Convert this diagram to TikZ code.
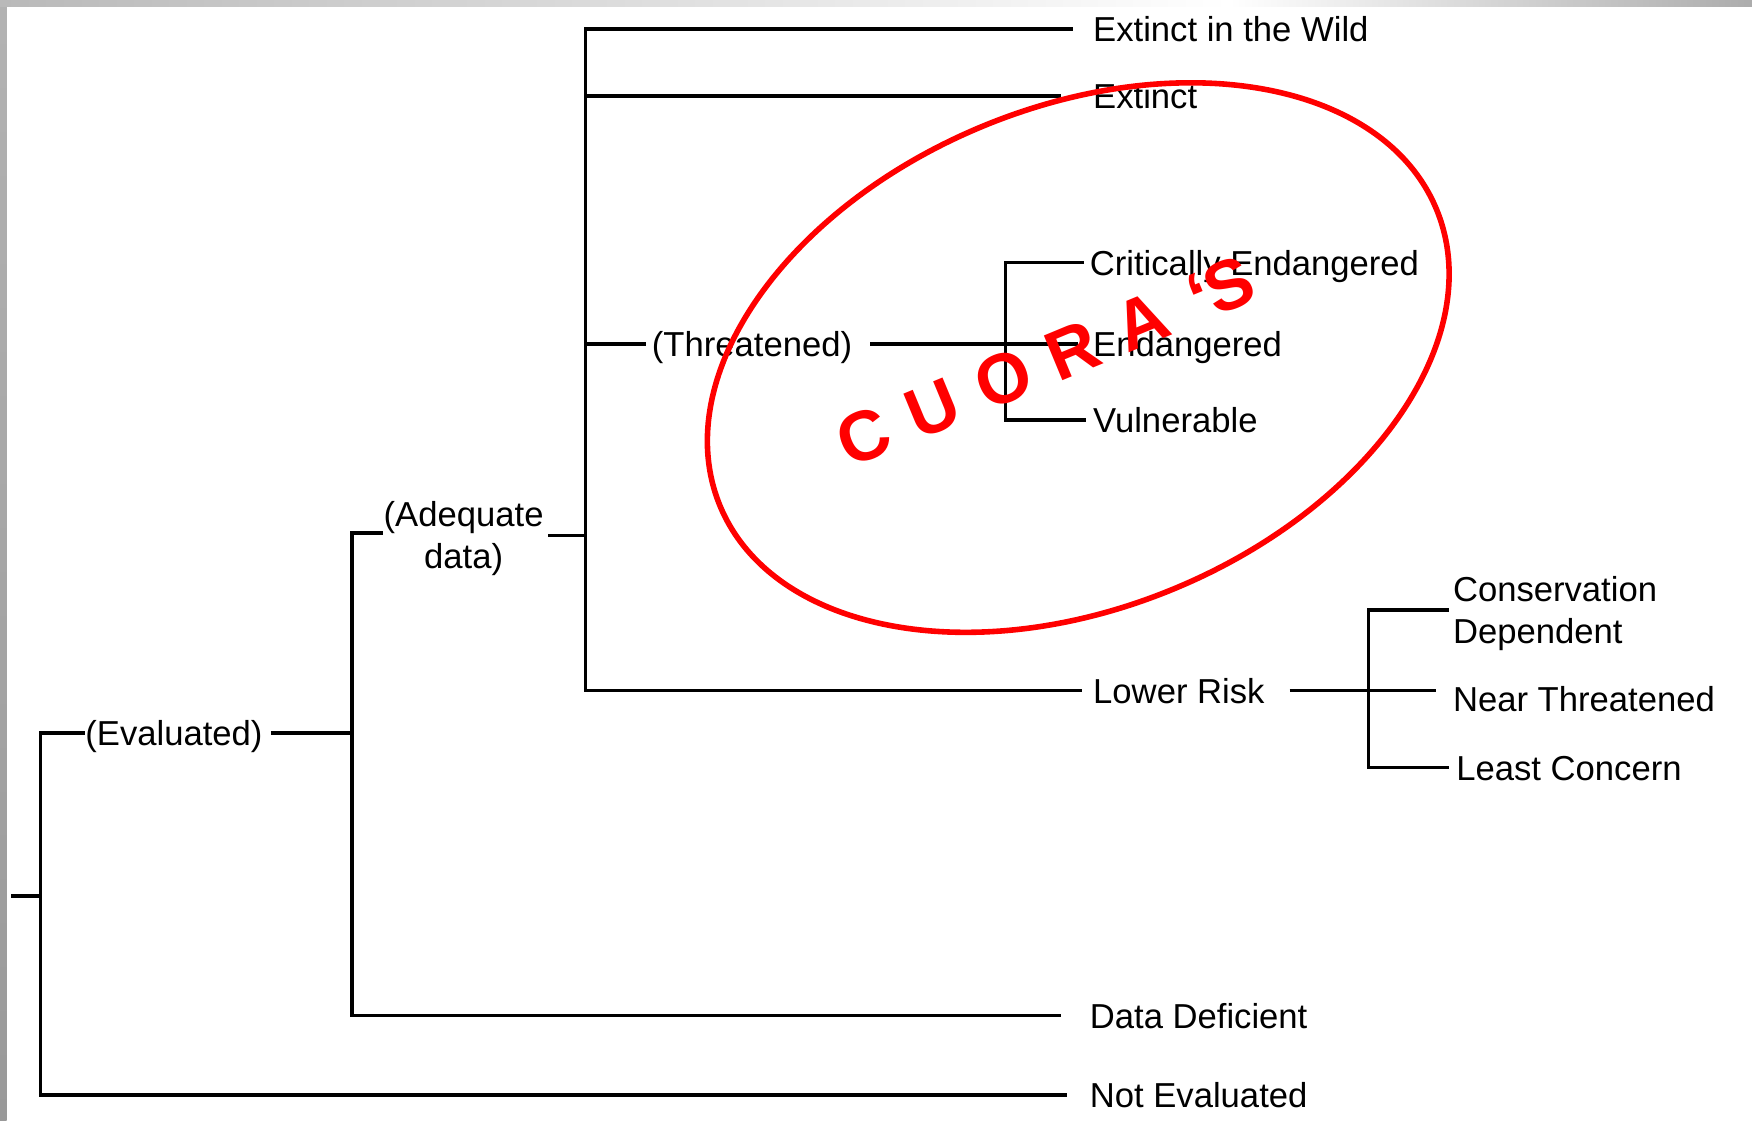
\documentclass[tikz,border=0pt]{standalone}
\usepackage{fontspec}
\setmainfont{Liberation Sans}
\usetikzlibrary{positioning}
\tikzset{branch/.style = {line width=1.5pt, black}}
\tikzset{category/.style = {anchor=west, inner sep=0pt, text height=11.2pt, text depth=0pt, font=\fontsize{15.5}{18.5}\selectfont}}
\tikzset{twoline/.style = {inner sep=0pt, font=\fontsize{15.5}{18.5}\selectfont}}
\tikzset{stamp/.style = {red, anchor=base, inner sep=0pt, font=\fontsize{31.5}{36}\selectfont\bfseries}}

\begin{document}
\begin{tikzpicture}[x=0.5pt, y=-0.5pt]
    \useasboundingbox (0,0) rectangle (1568,1003);
    % frame
    \fill[white] (0,0) rectangle (1568,1003);
    \shade[top color=gray!60, bottom color=gray!80] (0,0) rectangle (6,1003);
    \shade[left color=gray!55, right color=white] (0,0) rectangle (1100,6);
    \shade[left color=white, right color=gray!65] (1100,0) rectangle (1568,6);

    % joints
    \coordinate (root) at (10,802);
    \coordinate (jRoot) at (36,802);
    \coordinate (jEval) at (315,656);
    \coordinate (jAdeq) at (524,479);
    \coordinate (jThr) at (900,308);
    \coordinate (jLow) at (1225,618);

    % categories
    \node[category] (evaluated) at (76,656) {(Evaluated)};
    \node[category] (noteval) at (975,980) {Not Evaluated};
    \node[twoline, align=center, anchor=west] (adequate) at (343,482) {(Adequate\\data)};
    \node[category] (dataDef) at (975,909) {Data Deficient};
    \node[category] (ewild) at (978,26) {Extinct in the Wild};
    \node[category] (extinct) at (978,86) {Extinct};
    \node[category] (threatened) at (583,308) {(Threatened)};
    \node[category] (critically) at (975,235) {Critically Endangered};
    \node[category] (endangered) at (978,308) {Endangered};
    \node[category] (vulnerable) at (978,376) {Vulnerable};
    \node[category] (lowrisk) at (978,618) {Lower Risk};
    \node[twoline, align=left, anchor=west] (consdep) at (1300,549) {Conservation\\Dependent};
    \node[category] (neart) at (1300,626) {Near Threatened};
    \node[category] (leastcon) at (1303,687) {Least Concern};

    % brackets
    \draw[branch] (root) -- (jRoot);
    \foreach \Joint/\Target/\Gap in {%
        jRoot/evaluated/0pt,
        jRoot/noteval/10pt,
        jEval/dataDef/12.5pt,
        jAdeq/ewild/9pt,
        jAdeq/extinct/14pt,
        jAdeq/threatened/2.5pt,
        jAdeq/lowrisk/5pt,
        jThr/critically/2.5pt,
        jThr/vulnerable/3pt,
        jLow/leastcon/3pt%
        }
        \draw[branch, shorten >=\Gap] (\Joint) |- (\Target.west);
    \draw[branch] (jEval) |- ([yshift=2.5pt]adequate.west);
    \draw[branch] (jLow) |- ([yshift=1.5pt, xshift=-1.5pt]consdep.west);

    % links past the labels
    \draw[branch, shorten <=3.5pt] (evaluated.east) -- (jEval);
    \draw[branch, shorten <=2pt] (jAdeq -| adequate.east) -- (jAdeq);
    \draw[branch, shorten <=8pt, shorten >=6.5pt] (threatened.east) -- (endangered.west);
    \draw[branch, shorten <=11pt, shorten >=7.5pt] (lowrisk.east) -- (lowrisk.east -| neart.west);

    % red stamp
    \draw[red, line width=2.5pt, rotate around={22.5:(965,320)}] (965,320) ellipse [x radius=347, y radius=224];
    \begin{scope}[shift={(781,411)}, rotate=22.5, transform shape]
        \foreach \Letter/\Pos [count=\i] in {C/0, U/67, O/136, R/203, A/270, \textquoteleft/326, S/354}
            \node[stamp] (stamp\i) at (\Pos,0) {\Letter};
    \end{scope}
\end{tikzpicture}
\end{document}
